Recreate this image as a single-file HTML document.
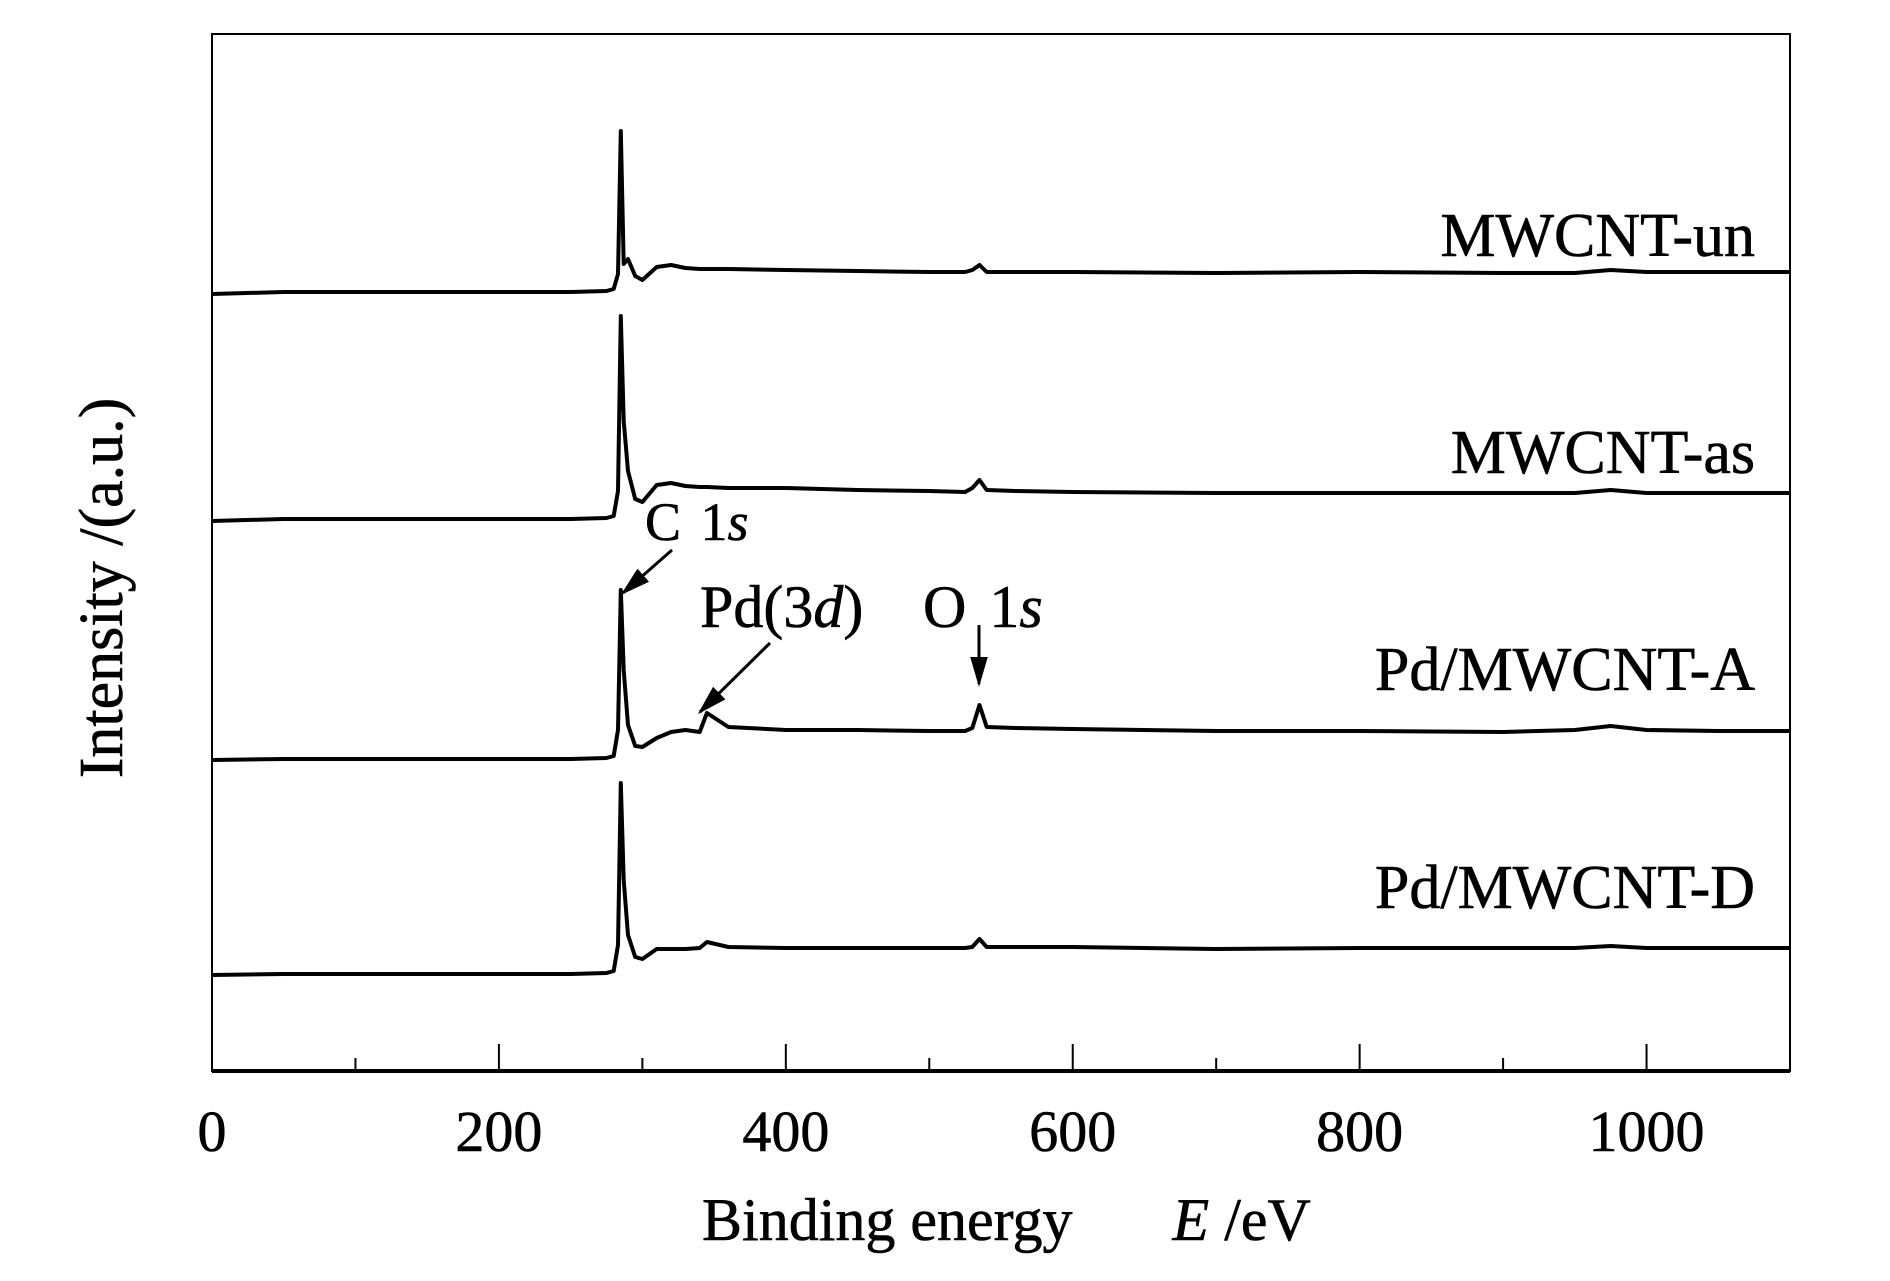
<!DOCTYPE html>
<html><head><meta charset="utf-8"><style>
html,body{margin:0;padding:0;background:#fff;}
svg text{font-family:"Liberation Serif",serif;fill:#000;stroke:#000;stroke-width:0.6;}
</style></head><body>
<svg id="chart" width="1890" height="1276" viewBox="0 0 1890 1276" xmlns="http://www.w3.org/2000/svg">
<defs><marker id="ah" viewBox="0 0 10 10" refX="9" refY="5" markerWidth="7" markerHeight="7" markerUnits="userSpaceOnUse" orient="auto"><path d="M0,1 L10,5 L0,9 Z" fill="#000"/></marker>
<marker id="ah2" viewBox="0 0 10 10" refX="9" refY="5" markerWidth="30" markerHeight="22" markerUnits="userSpaceOnUse" orient="auto" preserveAspectRatio="none"><path d="M0,1 L10,5 L0,9 Z" fill="#000"/></marker></defs>
<g id="plot"></g>
<rect x="212" y="34" width="1578" height="1037" fill="none" stroke="#000" stroke-width="2"/>
<line x1="212" y1="1071" x2="1790" y2="1071" stroke="#000" stroke-width="4"/>
<g id="ticks"></g>
<text x="702" y="1240" font-size="60">Binding energy <tspan dx="85" font-style="italic">E</tspan> /eV</text>
<text transform="translate(122,588) rotate(-90)" text-anchor="middle" font-size="62">Intensity /(a.u.)</text>
<text x="1755" y="256" text-anchor="end" font-size="62">MWCNT-un</text>
<text x="1755" y="473" text-anchor="end" font-size="62">MWCNT-as</text>
<text x="1755" y="690" text-anchor="end" font-size="62">Pd/MWCNT-A</text>
<text x="1755" y="908" text-anchor="end" font-size="62">Pd/MWCNT-D</text>
<text x="645" y="540" font-size="54">C <tspan dx="6">1</tspan><tspan font-style="italic">s</tspan></text>
<text x="700" y="627" font-size="60">Pd(3<tspan font-style="italic">d</tspan>)</text>
<text x="923" y="627" font-size="60">O <tspan dx="8">1</tspan><tspan font-style="italic">s</tspan></text>
<line x1="672" y1="550" x2="623" y2="593" stroke="#000" stroke-width="3" marker-end="url(#ah2)"/>
<line x1="770" y1="643" x2="700" y2="712" stroke="#000" stroke-width="3" marker-end="url(#ah2)"/>
<line x1="979" y1="625" x2="979" y2="684" stroke="#000" stroke-width="3" marker-end="url(#ah2)"/>
</svg>
<script>
const energies = [0,50,100,150,200,250,275,280,283,285,287,290,295,300,310,320,330,340,345,360,400,450,500,525,530,535,540,560,600,700,800,900,950,975,1000,1050,1100];
const seriesUn = [0,2,2,2,2,2,3,5,20,163,30,35,18,14,27,29,26,25,25,25,24,23,22,22,24,29,22,22,22,21,22,21,21,24,22,22,22];
const seriesAs = [0,2,2,2,2,2,3,5,30,205,100,50,22,19,36,38,35,34,34,33,33,31,30,29,33,41,31,30,29,28,28,28,28,31,28,28,28];
const seriesA  = [0,1,1,1,1,1,2,4,30,170,90,35,14,13,22,28,30,28,47,33,30,30,29,29,32,55,33,32,31,29,29,28,30,34,30,29,29];
const seriesD  = [0,1,1,1,1,1,2,4,30,192,95,40,18,16,26,26,26,27,33,28,27,27,27,27,28,36,28,28,28,26,27,27,27,29,27,27,27];
const seriesBases = [294,521,760,975];
const tickValues = [0,100,200,300,400,500,600,700,800,900,1000];
const tickLabels = ["0","","200","","400","","600","","800","","1000"];

const NS = "http://www.w3.org/2000/svg";
const X0 = 212, X1 = 1790, EMAX = 1100;
function xScale(e){ return X0 + (X1 - X0) * e / EMAX; }
function yScale(base, v){ return base - v; }

const plot = document.getElementById('plot');
const allSeries = [seriesUn, seriesAs, seriesA, seriesD];
const names = ['line-mwcnt-un','line-mwcnt-as','line-pd-mwcnt-a','line-pd-mwcnt-d'];
allSeries.forEach((vals, i) => {
  const d = vals.map((v, j) => (j ? 'L' : 'M') + xScale(energies[j]).toFixed(1) + ',' + yScale(seriesBases[i], v).toFixed(1)).join(' ');
  const p = document.createElementNS(NS, 'path');
  p.setAttribute('d', d);
  p.setAttribute('fill', 'none');
  p.setAttribute('stroke', '#000');
  p.setAttribute('stroke-width', '4');
  p.setAttribute('stroke-linejoin', 'round');
  
  
  plot.appendChild(p);
});

const ticks = document.getElementById('ticks');
tickValues.forEach((t, i) => {
  const x = xScale(t);
  const major = tickLabels[i] !== "";
  const l = document.createElementNS(NS, 'line');
  l.setAttribute('x1', x); l.setAttribute('x2', x);
  l.setAttribute('y1', 1071); l.setAttribute('y2', major ? 1044 : 1058);
  l.setAttribute('stroke', '#000'); l.setAttribute('stroke-width', '2');
  
  
  ticks.appendChild(l);
  if (major) {
    const tx = document.createElementNS(NS, 'text');
    tx.setAttribute('x', x); tx.setAttribute('y', 1151);
    tx.setAttribute('text-anchor', 'middle');
    tx.setAttribute('font-size', '58');
    tx.textContent = tickLabels[i];
    
    
    ticks.appendChild(tx);
  }
});
</script>
</body></html>
